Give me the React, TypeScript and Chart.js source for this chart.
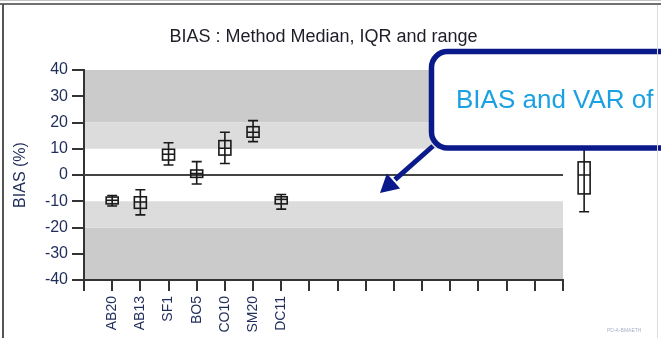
import React, { useEffect, useRef } from "react";
import { Chart, registerables } from "chart.js";

Chart.register(...registerables);

// ---- data ----
const categories = ["AB20", "AB13", "SF1", "BO5", "CO10", "SM20", "DC11"];
const whiskerLow = [-11.8, -15.2, 3.8, -3.4, 4.4, 12.7, -13.0];
const boxLow = [-11.0, -12.7, 5.7, -0.9, 7.6, 14.4, -11.0];
const medians = [-9.6, -10.3, 7.9, 0.6, 10.2, 16.3, -9.3];
const boxHigh = [-8.4, -8.3, 9.8, 1.9, 13.1, 18.4, -8.3];
const whiskerHigh = [-7.8, -5.6, 12.3, 5.1, 16.3, 20.7, -7.4];

// the pooled box that sits just right of the panel (x position in axis units)
const overallX = [17.75];
const overallBox = [-14, -7.2, 0, 5, 14]; // min, q1, median, q3, max

const yTicks = [-40, -30, -20, -10, 0, 10, 20, 30, 40];
const xTickCount = [17];
const outerBand = [20, 40];
const innerBand = [10, 20];

const titleText = "BIAS : Method Median, IQR and range";
const yTitle = "BIAS (%)";
const calloutText = "BIAS and VAR of";
const footText = "PD-A-BMAETH";

function drawBox(ctx: CanvasRenderingContext2D, x: number, y: any, v: number[]) {
  const [lo, q1, med, q3, hi] = v.map((d) => y.getPixelForValue(d));
  ctx.save();
  ctx.strokeStyle = "#1a1a1a";
  ctx.lineWidth = 1.6;
  ctx.beginPath();
  ctx.moveTo(x, hi);
  ctx.lineTo(x, lo);
  ctx.moveTo(x - 5, hi);
  ctx.lineTo(x + 5, hi);
  ctx.moveTo(x - 5, lo);
  ctx.lineTo(x + 5, lo);
  ctx.moveTo(x - 6, med);
  ctx.lineTo(x + 6, med);
  ctx.stroke();
  ctx.strokeRect(x - 6, q3, 12, q1 - q3);
  ctx.restore();
}

const bandsPlugin = {
  id: "bands",
  beforeDraw(chart: any) {
    const { ctx, chartArea: a, scales } = chart;
    const y = scales.y;
    ctx.save();
    ctx.fillStyle = "#ffffff";
    ctx.fillRect(0, 0, chart.width, chart.height);
    const band = (from: number, to: number, color: string) => {
      const p1 = y.getPixelForValue(to);
      const p2 = y.getPixelForValue(from);
      ctx.fillStyle = color;
      ctx.fillRect(a.left, p1, a.right - a.left, p2 - p1);
    };
    band(outerBand[0], outerBand[1], "#cbcbcb");
    band(-outerBand[1], -outerBand[0], "#cbcbcb");
    band(innerBand[0], innerBand[1], "#dcdcdc");
    band(-innerBand[1], -innerBand[0], "#dcdcdc");
    ctx.restore();
  },
  beforeDatasetsDraw(chart: any) {
    const { ctx, chartArea: a, scales } = chart;
    const p0 = scales.y.getPixelForValue(0);
    ctx.save();
    ctx.strokeStyle = "#444";
    ctx.lineWidth = 2;
    ctx.beginPath();
    ctx.moveTo(a.left, p0);
    ctx.lineTo(a.right, p0);
    ctx.stroke();
    ctx.restore();
  },
  afterDatasetsDraw(chart: any) {
    const { ctx, scales } = chart;
    categories.forEach((_, i) => {
      const x = scales.x.getPixelForValue(i + 1);
      drawBox(ctx, x, scales.y, [whiskerLow[i], boxLow[i], medians[i], boxHigh[i], whiskerHigh[i]]);
    });
    drawBox(ctx, scales.x.getPixelForValue(overallX[0]), scales.y, overallBox);
  },
  afterDraw(chart: any) {
    const { ctx, chartArea: a } = chart;
    ctx.save();
    // title
    ctx.fillStyle = "#1e1e28";
    ctx.font = '18px "Liberation Sans", Arial, sans-serif';
    ctx.textAlign = "center";
    ctx.textBaseline = "alphabetic";
    ctx.fillText(titleText, (a.left + a.right) / 2, 42);

    // arrow
    const tip = { x: 380, y: 193 };
    const start = { x: 433, y: 146 };
    const dx = start.x - tip.x, dy = start.y - tip.y;
    const len = Math.hypot(dx, dy);
    const ux = dx / len, uy = dy / len;
    const nx = -uy, ny = ux;
    const headLen = 18, headHalf = 10;
    const bx = tip.x + ux * headLen, by = tip.y + uy * headLen;
    ctx.strokeStyle = "#0a1a8a";
    ctx.fillStyle = "#0a1a8a";
    ctx.lineWidth = 5;
    ctx.beginPath();
    ctx.moveTo(start.x, start.y);
    ctx.lineTo(bx + ux * 2, by + uy * 2);
    ctx.stroke();
    ctx.beginPath();
    ctx.moveTo(tip.x, tip.y);
    ctx.lineTo(bx + nx * headHalf, by + ny * headHalf);
    ctx.lineTo(bx - nx * headHalf, by - ny * headHalf);
    ctx.closePath();
    ctx.fill();

    // callout box
    const L = 431.5, T = 51.5, R = 720, B = 148, r = 16;
    ctx.beginPath();
    ctx.moveTo(L + r, T);
    ctx.lineTo(R, T);
    ctx.lineTo(R, B);
    ctx.lineTo(L + r, B);
    ctx.arcTo(L, B, L, B - r, r);
    ctx.lineTo(L, T + r);
    ctx.arcTo(L, T, L + r, T, r);
    ctx.closePath();
    ctx.fillStyle = "#ffffff";
    ctx.fill();
    ctx.lineWidth = 5.5;
    ctx.strokeStyle = "#0a1a8a";
    ctx.stroke();

    ctx.fillStyle = "#1ba1e2";
    ctx.font = '26px "Liberation Sans", Arial, sans-serif';
    ctx.textAlign = "left";
    ctx.fillText(calloutText, 456, 108);

    // tiny footer code
    ctx.fillStyle = "#a8b2cc";
    ctx.font = '5px "Liberation Sans", Arial, sans-serif';
    ctx.fillText(footText, 607, 332);

    // slide frame lines
    ctx.fillStyle = "#c4c4c4";
    ctx.fillRect(0, 0, chart.width, 1);
    ctx.fillStyle = "#707070";
    ctx.fillRect(0, 3, chart.width, 2);
    ctx.fillStyle = "#555555";
    ctx.fillRect(2, 4, 2, chart.height - 4);
    ctx.fillStyle = "#dddddd";
    ctx.fillRect(657, 5, 1, chart.height - 5);
    ctx.restore();
  },
};

export default function App() {
  const ref = useRef<HTMLCanvasElement | null>(null);
  useEffect(() => {
    document.body.style.margin = "0";
    if (!ref.current) return;
    const labelColor = "#1f2d5a";
    const chart = new Chart(ref.current, {
      type: "scatter",
      data: {
        datasets: [
          {
            data: medians.map((m, i) => ({ x: i + 1, y: m })),
            pointRadius: 0,
            showLine: false,
          },
        ],
      },
      options: {
        animation: false,
        responsive: false,
        devicePixelRatio: 1,
        layout: { padding: { top: 70, right: 98, bottom: 0, left: 0 } },
        plugins: { legend: { display: false }, tooltip: { enabled: false }, title: { display: false } },
        scales: {
          x: {
            type: "linear",
            min: 0,
            max: xTickCount[0],
            afterBuildTicks: (s: any) => {
              s.ticks = Array.from({ length: xTickCount[0] + 1 }, (_, i) => ({ value: i }));
            },
            afterFit: (s: any) => {
              s.height = 58;
            },
            ticks: {
              autoSkip: false,
              minRotation: 90,
              maxRotation: 90,
              padding: 5,
              color: labelColor,
              font: { family: '"Liberation Sans", Arial, sans-serif', size: 14 },
              callback: (v: any) => {
                const n = Number(v);
                return Number.isInteger(n) && n >= 1 && n <= categories.length ? categories[n - 1] : "";
              },
            },
            grid: { drawOnChartArea: false, drawTicks: true, tickLength: 11, color: "#333", lineWidth: 2 },
            border: { display: true, color: "#333", width: 2 },
          },
          y: {
            min: yTicks[0],
            max: yTicks[yTicks.length - 1],
            afterBuildTicks: (s: any) => {
              s.ticks = yTicks.map((v) => ({ value: v }));
            },
            afterFit: (s: any) => {
              s.width = 84;
            },
            ticks: {
              padding: 4,
              color: labelColor,
              font: { family: '"Liberation Sans", Arial, sans-serif', size: 16 },
            },
            grid: { drawOnChartArea: false, drawTicks: true, tickLength: 12, color: "#333", lineWidth: 2 },
            border: { display: true, color: "#333", width: 2 },
            title: {
              display: true,
              text: yTitle,
              color: labelColor,
              padding: { top: 11, bottom: 0 },
              font: { family: '"Liberation Sans", Arial, sans-serif', size: 16 },
            },
          },
        },
      },
      plugins: [bandsPlugin],
    });
    return () => chart.destroy();
  }, []);
  return <canvas ref={ref} width={661} height={338} style={{ display: "block" }} />;
}
